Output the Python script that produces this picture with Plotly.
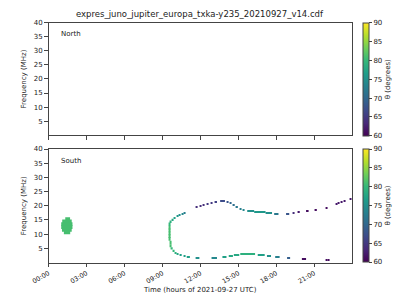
import plotly.graph_objects as go

# ---- data (hours of day, MHz, theta in degrees) ----
# South emission: horizontal cells (start time, end time, frequency, cell height, theta)
seg_t0 = [
    # blob near 01:30
    1.32, 1.08, 1.00, 1.00, 1.06, 1.21,
    # vertical part near 09:30
    9.50, 9.50, 9.50, 9.50, 9.50,
    # lower-left turn
    9.57, 9.62, 9.72, 9.82, 10.00, 10.17, 10.43, 10.68,
    # upper-left rise
    9.50, 9.62, 9.75, 9.92, 10.13, 10.32, 10.53, 10.68,
    # upper branch
    11.68, 11.94, 12.19, 12.50, 12.83, 13.18, 13.56, 14.09, 14.34, 14.59, 14.84, 15.10, 15.35,
    15.70, 16.25, 17.15, 17.83, 18.77, 19.30, 19.72, 20.35, 21.06, 21.95, 22.70, 22.88, 23.08,
    23.33, 23.83,
    # lower branch
    10.92, 11.62, 12.88, 13.74, 14.24, 14.64, 15.15, 16.53, 17.26, 17.91, 18.85, 20.02, 21.94,
    22.11,
]
seg_t1 = [
    1.70, 1.83, 1.89, 1.89, 1.83, 1.71,
    9.58, 9.58, 9.58, 9.58, 9.58,
    9.66, 9.71, 9.81, 9.91, 10.09, 10.26, 10.52, 10.77,
    9.58, 9.71, 9.84, 10.01, 10.22, 10.41, 10.62, 10.77,
    11.78, 12.04, 12.29, 12.63, 12.96, 13.31, 13.94, 14.21, 14.46, 14.71, 14.96, 15.22, 15.48,
    16.25, 17.15, 17.66, 18.17, 19.02, 19.38, 19.85, 20.55, 21.20, 22.03, 22.78, 22.96, 23.16,
    23.41, 23.91,
    11.17, 11.92, 13.31, 14.06, 14.57, 15.07, 16.32, 17.08, 17.58, 18.26, 19.09, 20.35, 22.01,
    22.19,
]
seg_f = [
    15.3, 14.5, 13.5, 12.5, 11.5, 10.6,
    12.3, 11.3, 10.3, 9.3, 8.3,
    7.06, 5.91, 4.97, 4.17, 3.48, 3.03, 2.68, 2.33,
    13.46, 14.37, 15.06, 15.76, 16.35, 16.70, 17.15, 17.39,
    19.72, 20.07, 20.42, 20.77, 20.97, 21.32, 21.81, 21.46, 20.87, 20.28, 19.58, 19.03, 18.54,
    18.09, 17.63, 17.29, 16.94, 16.94, 17.29, 17.63, 17.98, 18.33, 19.37, 20.77, 21.11, 21.46,
    21.81, 22.50,
    1.98, 1.74, 1.74, 1.98, 2.19, 2.68, 3.03, 2.68, 2.33, 1.98, 1.63, 1.29, 0.94,
    0.94,
]
seg_h = [
    1.3, 1.3, 1.3, 1.3, 1.3, 1.3,
    1.3, 1.3, 1.3, 1.3, 1.3,
    1.2, 1.1, 0.8, 0.7, 0.5, 0.4, 0.35, 0.35,
    1.2, 0.8, 0.7, 0.6, 0.45, 0.35, 0.35, 0.35,
    0.35, 0.35, 0.35, 0.35, 0.35, 0.35, 0.35, 0.35, 0.45, 0.5, 0.5, 0.45, 0.4,
    0.35, 0.35, 0.35, 0.35, 0.35, 0.35, 0.35, 0.35, 0.35, 0.35, 0.35, 0.35, 0.35,
    0.35, 0.35,
    0.35, 0.35, 0.35, 0.35, 0.35, 0.35, 0.35, 0.35, 0.35, 0.35, 0.35, 0.35, 0.35,
    0.35,
]
seg_theta = [
    81, 81, 81, 81, 81, 81,
    81, 81, 81, 81, 81,
    81, 81, 80, 80, 79, 78, 77, 77,
    80, 79, 78, 77, 76, 75, 74, 73,
    64, 64, 64, 65, 65, 66, 67, 68, 70, 71, 72, 73, 74,
    75, 76, 75, 72, 68, 64, 62, 61, 61, 61, 62, 62, 62,
    62, 62,
    77, 75, 74, 77, 78, 78, 79, 77, 75, 73, 69, 61, 61,
    61,
]

tick_hours = [0, 3, 6, 9, 12, 15, 18, 21]
tick_text = ["00:00", "03:00", "06:00", "09:00", "12:00", "15:00", "18:00", "21:00"]
freq_ticks = [5, 10, 15, 20, 25, 30, 35, 40]
theta_ticks = [60, 65, 70, 75, 80, 85, 90]

FONT = "DejaVu Sans"
TXT = "#222222"
AX = "#444444"

def cbar(y_top):
    return dict(
        x=361 / 400, xanchor="left", y=y_top, yanchor="top",
        len=115 / 300, lenmode="fraction", thickness=6,
        outlinewidth=1, outlinecolor=AX,
        tickvals=theta_ticks, ticks="outside", ticklen=3, tickcolor=AX,
        tickfont=dict(size=7, color=TXT, family=FONT),
        title=dict(text="θ (degrees)", side="right", font=dict(size=7, color=TXT, family=FONT)),
        xpad=0, ypad=0,
    )

fig = go.Figure()

# North panel: no emission, colour bar only
fig.add_trace(go.Scatter(
    x=[None], y=[None], mode="markers", xaxis="x", yaxis="y", showlegend=False,
    marker=dict(color=[75], colorscale="Viridis", cmin=60, cmax=90, showscale=True,
                colorbar=cbar(1 - 19 / 300)),
    hoverinfo="skip",
))

# South panel
fig.add_trace(go.Bar(
    orientation="h", base=seg_t0,
    x=[b - a for a, b in zip(seg_t0, seg_t1)],
    y=seg_f, width=seg_h, xaxis="x2", yaxis="y2", showlegend=False,
    marker=dict(color=seg_theta, colorscale="Viridis", cmin=60, cmax=90, line=dict(width=0),
                showscale=True, colorbar=cbar(1 - 147 / 300)),
))

xcommon = dict(range=[0, 24], tickvals=tick_hours, ticks="outside", ticklen=3.5, tickcolor=AX,
               showline=True, linecolor=AX, linewidth=1, mirror=True, showgrid=False,
               zeroline=False, domain=[32 / 400, 350 / 400],
               tickfont=dict(size=6.5, color=TXT, family=FONT))
ycommon = dict(range=[0, 40], tickvals=freq_ticks, ticks="outside", ticklen=3.5, tickcolor=AX,
               showline=True, linecolor=AX, linewidth=1, mirror=True, showgrid=False,
               zeroline=False, tickfont=dict(size=7, color=TXT, family=FONT),
               title=dict(text="Frequency (MHz)", font=dict(size=7, color=TXT, family=FONT),
                          standoff=6))

fig.update_layout(
    width=400, height=300, margin=dict(l=0, r=0, t=0, b=0),
    paper_bgcolor="white", plot_bgcolor="white", barmode="overlay",
    font=dict(family=FONT, color=TXT),
    xaxis=dict(**xcommon, anchor="y", showticklabels=False),
    yaxis=dict(**ycommon, anchor="x", domain=[1 - 133 / 300, 1 - 19 / 300]),
    xaxis2=dict(**xcommon, anchor="y2", ticktext=tick_text, tickangle=-30),
    yaxis2=dict(**ycommon, anchor="x2", domain=[1 - 262 / 300, 1 - 147 / 300]),
    annotations=[
        dict(text="expres_juno_jupiter_europa_txka-y235_20210927_v14.cdf", x=191 / 400,
             y=1 - 10 / 300, xref="paper", yref="paper", showarrow=False,
             font=dict(size=8.5, color=TXT, family=FONT), xanchor="center", yanchor="middle"),
        dict(text="Time (hours of 2021-09-27 UTC)", x=191 / 400, y=1 - 290 / 300,
             xref="paper", yref="paper", showarrow=False,
             font=dict(size=7, color=TXT, family=FONT), xanchor="center", yanchor="middle"),
        dict(text="North", x=43 / 400, y=1 - 30 / 300, xref="paper", yref="paper",
             showarrow=False, font=dict(size=7, color=TXT, family=FONT),
             xanchor="left", yanchor="middle"),
        dict(text="South", x=43 / 400, y=1 - 159 / 300, xref="paper", yref="paper",
             showarrow=False, font=dict(size=7, color=TXT, family=FONT),
             xanchor="left", yanchor="middle"),
    ],
)

fig.write_html("out.html")
